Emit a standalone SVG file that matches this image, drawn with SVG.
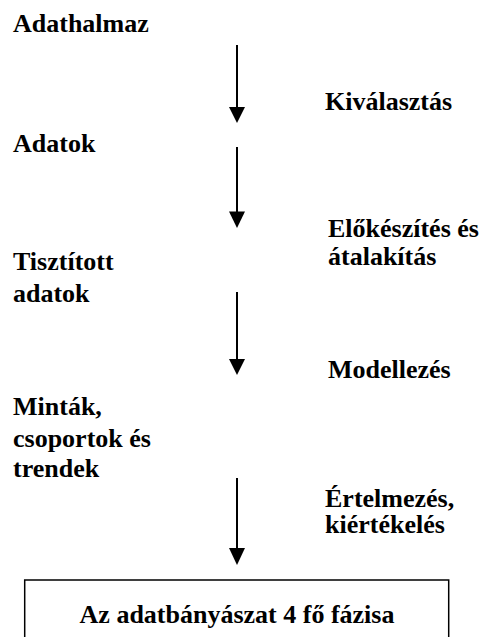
<svg xmlns="http://www.w3.org/2000/svg" width="484" height="637" viewBox="0 0 484 637">
<style>
.c line{stroke:#000;stroke-width:2}
.c polygon{fill:#000}
</style>
<rect width="484" height="637" fill="#fff"/>
<g font-family="Liberation Serif, Times New Roman, serif" font-weight="700" font-size="26" fill="#000">
<g id="n-adathalmaz"><text x="13" y="32">Adathalmaz</text></g>
<g id="n-adatok"><text x="13" y="152">Adatok</text></g>
<g id="n-tisztitott"><text x="13" y="270">Tisztított</text><text x="13" y="302">adatok</text></g>
<g id="n-mintak"><text x="13" y="415">Minták,</text><text x="13" y="447">csoportok és</text><text x="13" y="477">trendek</text></g>
<g id="n-fazisa"><rect x="24.7" y="580" width="424" height="80" fill="none" stroke="#000" stroke-width="1.5"/><text x="237" y="623" text-anchor="middle">Az adatbányászat 4 fő fázisa</text></g>
<g id="l-kivalasztas"><text x="325" y="110">Kiválasztás</text></g>
<g id="l-elokeszites"><text x="328" y="237">Előkészítés és</text><text x="328" y="265">átalakítás</text></g>
<g id="l-modellezes"><text x="328" y="378">Modellezés</text></g>
<g id="l-ertelmezes"><text x="325" y="507">Értelmezés,</text><text x="325" y="533">kiértékelés</text></g>
</g>
<g class="c" id="connectors">
<line x1="237" y1="45" x2="237" y2="108"/><polygon points="229,107 245,107 237,123"/>
<line x1="237" y1="147" x2="237" y2="212"/><polygon points="229,211.5 245,211.5 237,228"/>
<line x1="237" y1="292" x2="237" y2="360"/><polygon points="229,359 245,359 237,375"/>
<line x1="237" y1="478" x2="237" y2="549"/><polygon points="229,548 245,548 237,565"/>
</g>
</svg>
